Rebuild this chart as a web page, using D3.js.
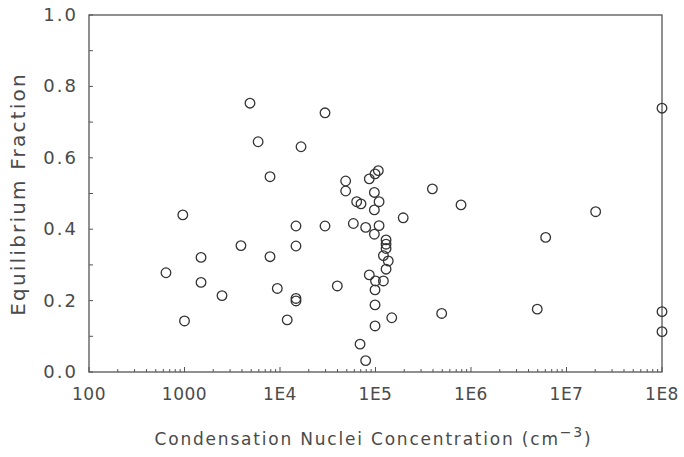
<!DOCTYPE html>
<html>
<head>
<meta charset="utf-8">
<script src="https://cdn.jsdelivr.net/npm/d3@7"></script>
<style>
  body { margin: 0; background: #fff; }
  text { font-family: "DejaVu Sans", sans-serif; fill: #4a4a4a; }
</style>
</head>
<body>
<div id="chart"></div>
<script>
// concentration (cm^-3) and equilibrium fraction
var concentration = [
  640, 960, 1000, 1490, 1490, 2470, 3900, 4850, 5900, 7860, 7860, 9370,
  11900, 14700, 14700, 14700, 14700, 16600, 29600, 29600, 39800,
  48700, 48700, 58600, 63500, 68900, 70500, 78900, 78900, 86100, 86100,
  97300, 97300, 97300, 98900, 98900, 98900, 98900, 100000, 107000, 109000, 109000,
  121000, 121000, 129000, 129000, 129000, 129000, 136000, 148000, 195000,
  394000, 493000, 786000, 4940000, 6050000, 20200000,
  1e8, 1e8, 1e8
];
var fraction = [
  0.278, 0.44, 0.143, 0.321, 0.251, 0.214, 0.354, 0.753, 0.645, 0.547, 0.323, 0.234,
  0.146, 0.409, 0.353, 0.206, 0.199, 0.631, 0.726, 0.409, 0.241,
  0.535, 0.507, 0.416, 0.477, 0.078, 0.471, 0.405, 0.032, 0.541, 0.272,
  0.503, 0.454, 0.386, 0.555, 0.23, 0.188, 0.129, 0.255, 0.564, 0.477, 0.41,
  0.326, 0.255, 0.37, 0.358, 0.346, 0.288, 0.311, 0.152, 0.432,
  0.513, 0.164, 0.468, 0.176, 0.377, 0.449,
  0.739, 0.169, 0.113
];
var xTickValues = [1e2, 1e3, 1e4, 1e5, 1e6, 1e7, 1e8];
var xTickLabels = ["100", "1000", "1E4", "1E5", "1E6", "1E7", "1E8"];
var yTickValues = [0, 0.2, 0.4, 0.6, 0.8, 1.0];

var width = 684, height = 457;
var margin = { top: 15, right: 22, bottom: 85, left: 89 };
var innerW = width - margin.left - margin.right;
var innerH = height - margin.top - margin.bottom;

var svg = d3.select('#chart').append('svg')
    .attr('width', width)
    .attr('height', height);

var g = svg.append('g')
    .attr('transform', 'translate(' + margin.left + ',' + margin.top + ')');

var xScale = d3.scaleLog().domain([1e2, 1e8]).range([0, innerW]);
var yScale = d3.scaleLinear().domain([0, 1]).range([innerH, 0]);

// frame
g.append('rect')
    .attr('width', innerW)
    .attr('height', innerH)
    .style('fill', 'none')
    .style('stroke', '#555')
    .style('stroke-width', 1.3);

// minor log ticks on the bottom axis, pointing inward
var minorX = [];
for (var e = 2; e < 8; e++) {
  for (var m = 1; m < 10; m++) minorX.push(m * Math.pow(10, e));
}
minorX.push(1e8);
g.append('g').selectAll('line')
    .data(minorX)
    .enter().append('line')
    .attr('x1', d => xScale(d))
    .attr('x2', d => xScale(d))
    .attr('y1', innerH)
    .attr('y2', d => innerH - (Math.abs(Math.log10(d) % 1) < 1e-9 ? 5 : 3))
    .style('stroke', '#555')
    .style('stroke-width', 1);

// y ticks every 0.1, pointing inward
g.append('g').selectAll('line')
    .data(d3.range(0, 11).map(i => i / 10))
    .enter().append('line')
    .attr('x1', 0)
    .attr('x2', 4)
    .attr('y1', d => yScale(d))
    .attr('y2', d => yScale(d))
    .style('stroke', '#555')
    .style('stroke-width', 1);

// tick labels
g.append('g').selectAll('text')
    .data(xTickValues)
    .enter().append('text')
    .attr('x', d => xScale(d))
    .attr('y', innerH + 28)
    .attr('text-anchor', 'middle')
    .style('font-size', '17px')
    .style('letter-spacing', '0.5px')
    .text((d, i) => xTickLabels[i]);

g.append('g').selectAll('text')
    .data(yTickValues)
    .enter().append('text')
    .attr('x', -11)
    .attr('y', d => yScale(d) + 6)
    .attr('text-anchor', 'end')
    .style('font-size', '18px')
    .style('letter-spacing', '2px')
    .text(d => d.toFixed(1));

// axis titles
var xTitle = svg.append('text')
    .attr('x', margin.left + innerW / 2 - 2)
    .attr('y', 445)
    .attr('text-anchor', 'middle')
    .style('font-size', '17px')
    .style('letter-spacing', '1.8px');
xTitle.append('tspan').text('Condensation Nuclei Concentration (cm');
xTitle.append('tspan').attr('dy', -8).style('font-size', '14px').text('\u22123');
xTitle.append('tspan').attr('dy', 8).text(')');

svg.append('text')
    .attr('transform', 'translate(25,' + 194 + ') rotate(-90)')
    .attr('text-anchor', 'middle')
    .style('font-size', '20px')
    .style('letter-spacing', '2.2px')
    .text('Equilibrium Fraction');

// points
g.append('g').selectAll('circle')
    .data(concentration)
    .enter().append('circle')
    .attr('cx', d => xScale(d))
    .attr('cy', (d, i) => yScale(fraction[i]))
    .attr('r', 4.8)
    .style('fill', 'none')
    .style('stroke', '#333')
    .style('stroke-width', 1.3);
</script>
</body>
</html>
